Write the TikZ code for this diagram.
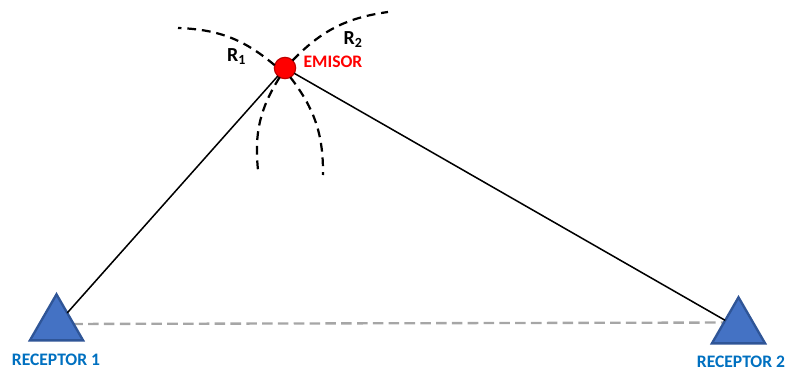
\documentclass[tikz,border=0pt]{standalone}
\usepackage{fontspec}
\setmainfont{Carlito}
\usetikzlibrary{shapes.geometric, backgrounds}
\definecolor{cblue}{HTML}{4472C4}
\definecolor{cdarkblue}{HTML}{2F5597}
\definecolor{clabel}{HTML}{0070C0}
\definecolor{cred}{HTML}{FF0000}
\definecolor{cdarkred}{HTML}{C00000}
\definecolor{cgrey}{HTML}{A6A6A6}
\tikzset{
  receptor/.style={regular polygon, regular polygon sides=3, draw=cdarkblue, fill=cblue, line width=2pt, minimum size=1.84cm, inner sep=0pt, outer sep=0pt},
  source/.style={circle, draw=cdarkred, fill=cred, line width=1pt, minimum size=0.64cm, inner sep=0pt, outer sep=0pt},
  link/.style={draw=black, line width=1.3pt},
  base/.style={draw=cgrey, line width=2pt, dash pattern=on 9pt off 4.5pt},
  wave/.style={draw=black, line width=1.9pt, dash pattern=on 7.5pt off 5pt},
  label/.style={font=\fontsize{15pt}{17pt}\selectfont\bfseries, inner sep=0pt},
  radius/.style={font=\fontsize{17pt}{19pt}\selectfont\bfseries, inner sep=0pt},
}
\begin{document}
\begin{tikzpicture}[x=0.03cm, y=-0.03cm]
  \useasboundingbox (0,0) rectangle (787,369);
  \node[source] (em) at (285,68) {};
  \node[receptor] (rec1) at (56.5,325) {};
  \node[receptor] (rec2) at (738.5,328) {};
  \node[label, text=cred] (emlabel) at (333,62) {EMISOR};
  \node[label, text=clabel] (rec1label) at (56,360) {RECEPTOR 1};
  \node[label, text=clabel] (rec2label) at (741,362) {RECEPTOR 2};
  \node[radius] (r1) at (236.5,57) {R\textsubscript{1}};
  \node[radius] (r2) at (353,40) {R\textsubscript{2}};
  \coordinate (w1) at (178,28);
  \coordinate (w2) at (388,12);
  \coordinate (w3) at (258,170);
  \coordinate (w4) at (323,175);
  \draw[link] (em) -- (rec1);
  \draw[link] (em) -- (rec2);
  \begin{scope}[on background layer]
    \draw[base] ([yshift=0.03cm]rec1.center) -- ([yshift=0.165cm]rec2.center);
  \end{scope}
  % dashed arcs
  \draw[wave] (em.165) to[bend right=19] (w1);
  \draw[wave] (em.45) to[bend left=19] (w2);
  \draw[wave] (em.240) to[bend right=19] (w3);
  \draw[wave] (em.300) to[bend left=19] (w4);
\end{tikzpicture}
\end{document}
